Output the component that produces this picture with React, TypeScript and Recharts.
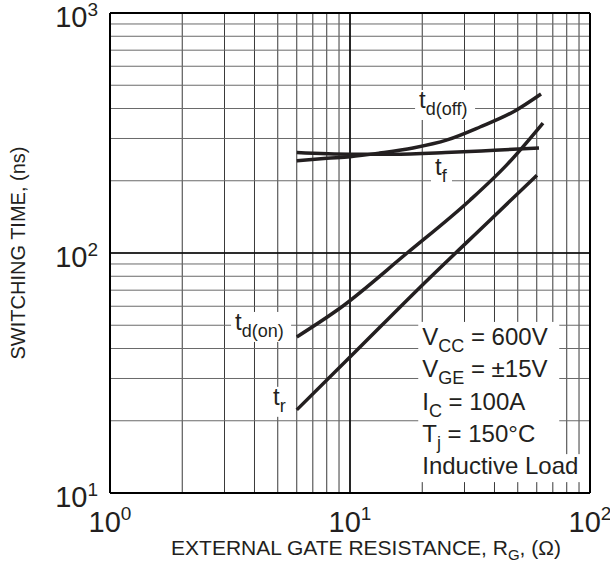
import { CartesianGrid, Line, LineChart, ReferenceDot, ReferenceLine, XAxis, YAxis } from "recharts";

const FONT = "'Liberation Sans', Arial, Helvetica, sans-serif";
const INK = "#231f20";

// axis ticks (log decades with minor 2..9)
const rgTicks = [1, 2, 3, 4, 5, 6, 7, 8, 9, 10, 20, 30, 40, 50, 60, 70, 80, 90, 100];
const timeTicks = [10, 20, 30, 40, 50, 60, 70, 80, 90, 100, 200, 300, 400, 500, 600, 700, 800, 900, 1000];

// switching times (ns) vs gate resistance (ohm)
const tdOff = [
  { r: 6, t: 242 },
  { r: 8, t: 248 },
  { r: 10, t: 252 },
  { r: 13.3, t: 261 },
  { r: 18.3, t: 274 },
  { r: 25.4, t: 296 },
  { r: 34.8, t: 335 },
  { r: 47.8, t: 387 },
  { r: 62.5, t: 460 },
];
const tf = [
  { r: 6, t: 262 },
  { r: 10, t: 258 },
  { r: 15, t: 258 },
  { r: 25, t: 262 },
  { r: 40, t: 268 },
  { r: 61.3, t: 274 },
];
const tdOn = [
  { r: 6, t: 44.7 },
  { r: 9.1, t: 59 },
  { r: 17.3, t: 100 },
  { r: 31.6, t: 166 },
  { r: 45, t: 233 },
  { r: 63.7, t: 348 },
];
const tr = [
  { r: 6, t: 22.2 },
  { r: 10.7, t: 39.4 },
  { r: 19.6, t: 72 },
  { r: 38.3, t: 137 },
  { r: 60.1, t: 211 },
];

// curve names, anchored at the start of the text baseline (data units)
const curveLabels = [
  { r: 19.4, t: 402, sub: "d(off)", w: 60 },
  { r: 22.6, t: 211, sub: "f", w: 21 },
  { r: 3.32, t: 47.8, sub: "d(on)", w: 60 },
  { r: 4.78, t: 23.3, sub: "r", w: 20 },
];

const conditions = [
  { main: "V", sub: "CC", rest: " = 600V" },
  { main: "V", sub: "GE", rest: " = ±15V" },
  { main: "I", sub: "C", rest: " = 100A" },
  { main: "T", sub: "j", rest: " = 150°C" },
  { main: "Inductive Load", sub: "", rest: "" },
];
const conditionsAnchor = { r: 20, t: 41.4 };

const isDecade = (v: number) => {
  const e = Math.round(Math.log10(v));
  return Math.abs(10 ** e - v) < 1e-9 ? e : null;
};

function XTick(props: any) {
  const { x, y, payload } = props;
  const e = isDecade(payload.value);
  if (e === null) return null;
  return (
    <text x={x} y={y + 39} textAnchor="middle" fontFamily={FONT} fontSize={29} fill={INK}>
      10
      <tspan fontSize={19} dy={-12}>{e}</tspan>
    </text>
  );
}

function YTick(props: any) {
  const { x, y, payload } = props;
  const e = isDecade(payload.value);
  if (e === null) return null;
  return (
    <text x={x - 12} y={y + 14} textAnchor="end" fontFamily={FONT} fontSize={29} fill={INK}>
      10
      <tspan fontSize={19} dy={-11}>{e}</tspan>
    </text>
  );
}

function XTitle(props: any) {
  const { x, y, width } = props.viewBox;
  return (
    <text x={x + width / 2 + 16} y={y + 62} textAnchor="middle" fontFamily={FONT} fontSize={21} fill={INK}>
      EXTERNAL GATE RESISTANCE, R
      <tspan fontSize={15} dy={5}>G</tspan>
      <tspan dy={-5}>, (Ω)</tspan>
    </text>
  );
}

function YTitle(props: any) {
  const { y, height } = props.viewBox;
  const cy = y + height / 2;
  return (
    <text
      x={25}
      y={cy}
      transform={`rotate(-90, 25, ${cy})`}
      textAnchor="middle"
      fontFamily={FONT}
      fontSize={20}
      fill={INK}
    >
      SWITCHING TIME, (ns)
    </text>
  );
}

function CurveLabel({ cx, cy, sub, w }: any) {
  return (
    <g>
      <rect x={cx - 4} y={cy - 18} width={w} height={30} fill="#fff" />
      <text x={cx} y={cy} fontFamily={FONT} fontSize={24} fill={INK}>
        t<tspan fontSize={18} dy={7}>{sub}</tspan>
      </text>
    </g>
  );
}

function ConditionsBox({ cx, cy }: any) {
  const step = 32.3;
  return (
    <g>
      <rect x={cx - 4} y={cy - 23} width={141} height={step * 4 + 30} fill="#fff" />
      <rect x={cx - 4} y={cy + step * 4 - 20} width={162} height={28} fill="#fff" />
      {conditions.map((c, i) => (
        <text key={i} x={cx} y={cy + i * step} fontFamily={FONT} fontSize={24} fill={INK}>
          {c.main}
          {c.sub ? (
            <>
              <tspan fontSize={18} dy={7}>{c.sub}</tspan>
              <tspan dy={-7}>{c.rest}</tspan>
            </>
          ) : null}
        </text>
      ))}
    </g>
  );
}

const series = [tdOff, tf, tdOn, tr];

export default function App() {
  return (
    <div style={{ position: "absolute", left: 0, top: 0 }}>
      <LineChart width={610} height={573} margin={{ top: 13, right: 20, left: 0, bottom: 0 }}>
        <CartesianGrid horizontal={false} stroke="#3a3a3a" strokeWidth={1} />
        <CartesianGrid vertical={false} stroke="#6a6a6a" strokeWidth={1} />
        <XAxis
          dataKey="r"
          type="number"
          scale="log"
          domain={[1, 100]}
          ticks={rgTicks}
          interval={0}
          allowDataOverflow
          tick={(p: any) => <XTick {...p} />}
          tickLine={false}
          tickSize={0}
          tickMargin={0}
          height={80}
          axisLine={{ stroke: "#000", strokeWidth: 2 }}
          label={{ content: (p: any) => <XTitle {...p} /> }}
        />
        <YAxis
          dataKey="t"
          type="number"
          scale="log"
          domain={[10, 1000]}
          ticks={timeTicks}
          interval={0}
          allowDataOverflow
          tick={(p: any) => <YTick {...p} />}
          tickLine={false}
          tickSize={0}
          tickMargin={0}
          width={110}
          axisLine={{ stroke: "#000", strokeWidth: 2 }}
          label={{ content: (p: any) => <YTitle {...p} /> }}
        />
        <ReferenceLine x={10} stroke="#000" strokeWidth={1.5} />
        <ReferenceLine y={100} stroke="#000" strokeWidth={1.5} />
        <ReferenceLine x={100} stroke="#000" strokeWidth={2} ifOverflow="visible" />
        <ReferenceLine y={1000} stroke="#000" strokeWidth={2} ifOverflow="visible" />
        {curveLabels.map((l, i) => (
          <ReferenceDot
            key={i}
            x={l.r}
            y={l.t}
            r={0}
            shape={(p: any) => <CurveLabel cx={p.cx} cy={p.cy} sub={l.sub} w={l.w} />}
          />
        ))}
        <ReferenceDot
          x={conditionsAnchor.r}
          y={conditionsAnchor.t}
          r={0}
          shape={(p: any) => <ConditionsBox cx={p.cx} cy={p.cy} />}
        />
        {series.map((d, i) => (
          <Line
            key={i}
            data={d}
            dataKey="t"
            type="monotone"
            stroke={INK}
            strokeWidth={3.5}
            dot={false}
            activeDot={false}
            isAnimationActive={false}
          />
        ))}
      </LineChart>
    </div>
  );
}
